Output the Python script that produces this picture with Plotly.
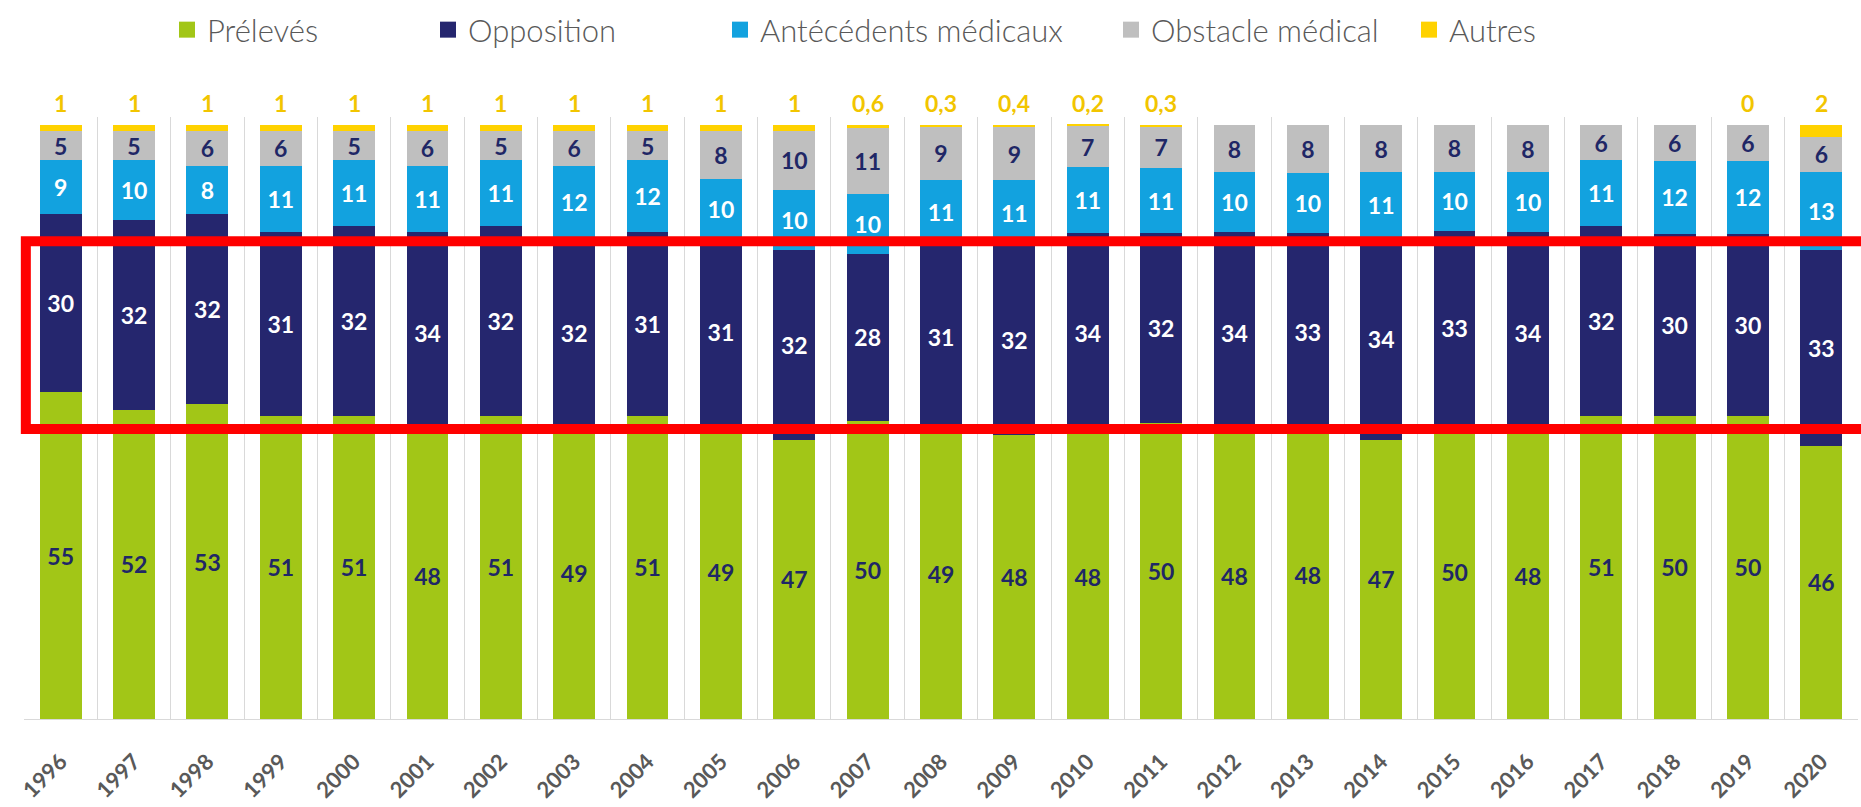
import plotly.graph_objects as go

years = [str(y) for y in range(1996, 2021)]

preleves = [55, 52, 53, 51, 51, 48, 51, 49, 51, 49, 47, 50, 49, 48, 48, 50, 48, 48, 47, 50, 48, 51, 50, 50, 46]
opposition = [30, 32, 32, 31, 32, 34, 32, 32, 31, 31, 32, 28, 31, 32, 34, 32, 34, 33, 34, 33, 34, 32, 30, 30, 33]
antecedents = [9, 10, 8, 11, 11, 11, 11, 12, 12, 10, 10, 10, 11, 11, 11, 11, 10, 10, 11, 10, 10, 11, 12, 12, 13]
obstacle = [5, 5, 6, 6, 5, 6, 5, 6, 5, 8, 10, 11, 9, 9, 7, 7, 8, 8, 8, 8, 8, 6, 6, 6, 6]
autres = [1, 1, 1, 1, 1, 1, 1, 1, 1, 1, 1, 0.6, 0.3, 0.4, 0.2, 0.3,
          None, None, None, None, None, None, None, 0, 2]

series_names = ["Prélevés", "Opposition", "Antécédents médicaux", "Obstacle médical", "Autres"]
series_values = [preleves, opposition, antecedents, obstacle, autres]
series_colors = ["#A2C617", "#25266E", "#12A2DF", "#BFBFBF", "#FFD200"]
text_colors = ["#1F2766", "#FFFFFF", "#FFFFFF", "#1F2766", "#F2C500"]
# legend swatch centres (pixels)
legend_x = [187, 448, 740, 1131, 1429]

STACK_TOP = 100  # barnorm percent total

FONT = "Lato, Carlito, Calibri, sans-serif"


def fmt(v):
    if v is None:
        return ""
    if float(v).is_integer():
        return str(int(v))
    return str(v).replace(".", ",")


fig = go.Figure()

for i, (name, vals, col, tcol) in enumerate(zip(series_names, series_values, series_colors, text_colors)):
    is_top = (i == len(series_names) - 1)
    fig.add_trace(go.Bar(
        x=years, y=vals, name=name,
        marker=dict(color=col, line=dict(width=0)),
        text=None if is_top else [fmt(v) for v in vals],
        textposition="none" if is_top else "inside",
        insidetextanchor="middle",
        textangle=0,
        constraintext="none",
        textfont=dict(family=FONT, size=23, color=tcol, weight="bold"),
        showlegend=False,
        hoverinfo="skip",
    ))

# legend proxies, one legend each so positions match the original
for i, (name, col) in enumerate(zip(series_names, series_colors)):
    lg = "legend" if i == 0 else f"legend{i+1}"
    fig.add_trace(go.Scatter(
        x=[years[0]], y=[None], mode="markers", name=name,
        marker=dict(symbol="square", size=18, color=col),
        showlegend=True, legend=lg, hoverinfo="skip",
    ))

# labels of "Autres" above the stacks (category index positions)
for idx, v in enumerate(autres):
    if v is None:
        continue
    fig.add_annotation(
        x=idx, y=STACK_TOP, xref="x", yref="y",
        text=fmt(v), showarrow=False, yanchor="bottom", yshift=6,
        font=dict(family=FONT, size=23, color="#F2C500", weight="bold"),
    )

# red highlight rectangle
fig.add_shape(
    type="rect", xref="paper", yref="y",
    x0=0.001, x1=1.02, y0=48.8, y1=80.4,
    line=dict(color="#FF0000", width=10), fillcolor="rgba(0,0,0,0)",
    layer="above",
)

legend_common = dict(
    orientation="h", xref="container", yref="container",
    y=1 - 30 / 807, yanchor="middle", xanchor="left",
    font=dict(family=FONT, size=31, color="#595959", weight=300),
    bgcolor="rgba(0,0,0,0)", borderwidth=0, itemsizing="trace",
)
legends = {}
for i in range(5):
    key = "legend" if i == 0 else f"legend{i+1}"
    legends[key] = dict(legend_common, x=(legend_x[i] - 20) / 1861)

fig.update_layout(
    width=1861, height=807,
    barmode="stack", barnorm="percent", bargap=0.43,
    plot_bgcolor="white", paper_bgcolor="white",
    margin=dict(l=24, r=3, t=117, b=88, autoexpand=False),
    xaxis=dict(
        type="category", categoryorder="array", categoryarray=years,
        range=[-0.5, len(years) - 0.5], autorange=False, automargin=False,
        tickson="boundaries", showgrid=True,
        gridcolor="#D9D9D9", gridwidth=1,
        showline=True, linecolor="#D9D9D9", linewidth=1,
        ticks="", tickangle=-45,
        tickfont=dict(family=FONT, size=22, color="#595959", weight="bold"),
        ticklabelstandoff=20,
    ),
    yaxis=dict(range=[0, 101.3], visible=False, showgrid=False, zeroline=False,
               automargin=False),
    **legends,
)

fig.write_html(
    "out.html",
    config={"displayModeBar": False},
    post_script="document.body.style.margin='0';document.body.style.overflow='hidden';",
)
